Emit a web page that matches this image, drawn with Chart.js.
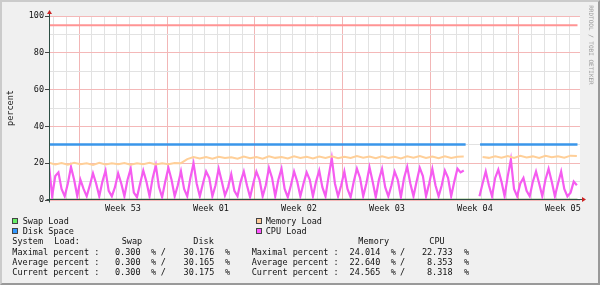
<!DOCTYPE html>
<html>
<head>
<meta charset="utf-8">
<script src="https://cdn.jsdelivr.net/npm/chart.js@4.4.1/dist/chart.umd.min.js"></script>
<style>
body { margin: 0; background: #f0f0f0; }
#wrap { position: relative; width: 600px; height: 285px; background: #f0f0f0; overflow: hidden; }
#wrap canvas { position: absolute; left: 0; top: 0; }
#frame { position: absolute; left: 0; top: 0; width: 600px; height: 285px; box-sizing: border-box;
  border-top: 2px solid #cbcbcb; border-left: 2px solid #cbcbcb;
  border-bottom: 2px solid #999; border-right: 2px solid #999; pointer-events: none; }
.t { position: absolute; font-family: "DejaVu Sans Mono", monospace; font-size: 8.5px; line-height: 10px; color: #111; white-space: pre; }
.sw { position: absolute; width: 4px; height: 4px; border: 1px solid #444; }
</style>
</head>
<body>
<div id="wrap">
  <canvas id="myChart" width="600" height="285"></canvas>
  <div id="legend"></div>
  <div id="frame"></div>
</div>
<script>
// samples: cpu every 6h, memory every 12h, x in days from the left edge
const cpuStep = 0.25;
const cpuLoad = [
  19, 2, 13, 15,   6, 2, 9, 18,   11, 2, 11, 6,   2, 8, 14.5, 9,
  2, 10, 16, 5,    2, 7, 14.5, 9,  2, 11, 17, 4,   1.5, 9, 16, 10,
  2, 12, 18.8, 7,  1.5, 10, 17.5, 11,  2, 8, 15.6, 6,  2, 12, 20, 9,
  2, 9, 15.5, 12,  2, 8, 17, 10,  2.5, 7, 14, 5,   2, 10, 15.5, 8,
  1.5, 9, 15.5, 11,  2, 8, 17.5, 12,  2, 11, 17, 6,  1.5, 8, 15.5, 10,
  2, 9, 15, 11,    2, 10, 16, 7,   2, 13, 22.7, 9,  2, 8, 15.5, 6,
  1.5, 10, 17, 12,  2, 9, 17.8, 10,  1.5, 11, 17, 7,  2, 8, 15.5, 11,
  1.5, 12, 18, 9,  2, 10, 17.5, 13,  2, 9, 17, 8,   2, 8, 16, 12,
  2, 10, 17, 15,   16, null, null, null,  null, 2, 9, 15.5,  8, 2, 12, 16.5,
  10, 2, 13, 22,   6, 2, 9, 12,    5, 2, 10, 15.5,  9, 2, 11, 17,
  10, 2, 9, 15.5,  6, 2, 4, 10,    8
];

const memStep = 0.5;
const memoryLoad = [
  20.2, 19.3, 20.1, 19.2, 20.2, 19.4, 20.0, 19.1, 20.2, 19.3, 20.0,
  19.4, 20.1, 19.2, 20.0, 19.4, 20.2, 19.3, 20.0, 19.4, 20.1, 20.0,
  22.2,
  23.3, 22.6, 23.4, 22.5, 23.5, 22.8, 23.2, 22.4, 23.6, 22.7, 23.3,
  22.5, 23.8, 22.9, 23.4, 22.6, 23.7, 22.8, 23.5, 22.6, 23.6, 22.9,
  23.8, 22.7, 23.5, 22.8, 23.9, 23.0, 23.6, 22.7, 23.8, 22.9, 23.5,
  22.6, 23.7, 23.0, 23.9, 22.8, 23.6, 22.7, 23.8, 22.9, 23.5, 23.6,
  null, null,
  23.4, 22.9, 23.8, 23.0, 23.9, 22.8, 24.0, 23.1,
  23.7, 22.9, 24.0, 23.2, 23.8, 23.0, 24.1, 23.9
];

const diskDays = [0, 33.15, 33.7, 34.3, 42.05];
const diskSpace = [30.17, 30.17, null, 30.17, 30.17];
const swapDays = [0, 42.05];
const swapLoad = [0.3, 0.3];
const limitDays = [0, 42.05];
const limitLine = [95, 95];

const weekStarts = [2.39, 9.39, 16.39, 23.39, 30.39, 37.39];
const weekCenters = [5.89, 12.89, 19.89, 26.89, 33.89, 40.89];
const weekLabels = ['Week 53', 'Week 01', 'Week 02', 'Week 03', 'Week 04', 'Week 05'];

const statNames = ['Maximal percent :', 'Average percent :', 'Current percent :'];
const swapStats = ['0.300', '0.300', '0.300'];
const diskStats = ['30.176', '30.165', '30.175'];
const memStats = ['24.014', '22.640', '24.565'];
const cpuStats = ['22.733', '8.353', '8.318'];

function pts(xs, ys) {
    return ys.map((v, i) => ({ x: xs[i], y: v }));
}
function stepPts(step, ys) {
    return ys.map((v, i) => ({ x: i * step, y: v }));
}

// daily grid lines + week label positions
let dayLines = [];
for (let d = 0.39; d < 42.2; d += 1) dayLines.push(+d.toFixed(2));
const xTicks = dayLines.concat(weekCenters);

const monoFont = { family: 'DejaVu Sans Mono', size: 8.5 };

const framePlugin = {
    id: 'frame',
    beforeDraw(chart) {
        const a = chart.chartArea, c = chart.ctx;
        c.save();
        c.fillStyle = '#ffffff';
        c.fillRect(a.left, a.top, a.right - a.left, a.bottom - a.top);
        c.restore();
    },
    afterDraw(chart) {
        const a = chart.chartArea, c = chart.ctx;
        const l = Math.round(a.left) + 0.5, b = Math.round(a.bottom) - 0.5;
        c.save();
        c.strokeStyle = '#2c4d43';
        c.lineWidth = 1;
        c.beginPath();
        c.moveTo(l, a.top - 4); c.lineTo(l, b + 3);
        c.moveTo(l - 3, b); c.lineTo(a.right + 3, b);
        c.stroke();
        // arrows
        c.fillStyle = '#cc2222';
        c.beginPath();
        c.moveTo(l - 2.5, a.top - 2); c.lineTo(l + 2.5, a.top - 2); c.lineTo(l, a.top - 6);
        c.closePath(); c.fill();
        c.beginPath();
        c.moveTo(a.right + 2, b - 2.5); c.lineTo(a.right + 2, b + 2.5); c.lineTo(a.right + 6, b);
        c.closePath(); c.fill();
        c.restore();
    }
};

var chart = document.getElementById('myChart').getContext('2d');

var myChart = new Chart(chart, {
    type: 'line',
    data: {
        datasets: [
            { label: 'Limit', data: pts(limitDays, limitLine), borderColor: '#ff9494', borderWidth: 2 },
            { label: 'Disk Space', data: pts(diskDays, diskSpace), borderColor: '#3a96ea', borderWidth: 2.5 },
            { label: 'Memory Load', data: stepPts(memStep, memoryLoad), borderColor: '#ffcf98', borderWidth: 2 },
            { label: 'CPU Load', data: stepPts(cpuStep, cpuLoad), borderColor: '#f55cf0', borderWidth: 2.2 },
            { label: 'Swap Load', data: pts(swapDays, swapLoad), borderColor: '#3f8a1a', borderWidth: 1.5 }
        ]
    },
    options: {
        responsive: false,
        animation: false,
        spanGaps: false,
        elements: { point: { radius: 0 }, line: { tension: 0 } },
        layout: { padding: { left: 0, top: 16, right: 20, bottom: 70 } },
        plugins: { legend: { display: false }, tooltip: { enabled: false } },
        scales: {
            x: {
                type: 'linear', min: 0, max: 42.25,
                afterBuildTicks: s => { s.ticks = xTicks.map(v => ({ value: v })); },
                afterFit: s => { s.height = 15; },
                border: { display: false },
                grid: {
                    drawTicks: false,
                    color: c => {
                        const v = c.tick ? c.tick.value : -1;
                        if (weekCenters.includes(v)) return 'rgba(0,0,0,0)';
                        if (weekStarts.includes(v)) return '#f2b6b6';
                        return '#e2e2e2';
                    }
                },
                ticks: {
                    autoSkip: false, maxRotation: 0, padding: 4, font: monoFont, color: '#111',
                    callback: v => { const k = weekCenters.indexOf(v); return k >= 0 ? weekLabels[k] : ''; }
                }
            },
            y: {
                min: 0, max: 100,
                afterFit: s => { s.width = 49; },
                border: { display: false },
                grid: {
                    tickLength: 4,
                    color: c => (c.tick.value % 20 === 0 ? '#f4b8b8' : '#e2e2e2'),
                    tickColor: c => (c.tick.value % 20 === 0 ? '#444' : 'rgba(0,0,0,0)')
                },
                ticks: {
                    stepSize: 10, padding: 1, font: monoFont, color: '#111',
                    callback: v => (v % 20 === 0 ? v : '')
                }
            }
        }
    },
    plugins: [framePlugin]
});

// legend + statistics as text
const legend = document.getElementById('legend');
function txt(s, x, y, extra) {
    const d = document.createElement('div');
    d.className = 't';
    d.textContent = s;
    d.style.left = x + 'px';
    d.style.top = y + 'px';
    if (extra) Object.assign(d.style, extra);
    legend.appendChild(d);
}
function swatch(color, x, y) {
    const d = document.createElement('div');
    d.className = 'sw';
    d.style.left = x + 'px';
    d.style.top = y + 'px';
    d.style.background = color;
    legend.appendChild(d);
}

swatch('#66ee66', 12, 218); txt('Swap Load', 22.7, 215.7);
swatch('#ffcc99', 255.5, 218); txt('Memory Load', 265.7, 215.7);
swatch('#3399ff', 12, 228); txt('Disk Space', 22.7, 225.7);
swatch('#ff55ff', 255.5, 228); txt('CPU Load', 265.7, 225.7);

txt('System', 12.3, 236); txt('Load:', 54.3, 236);
txt('Swap', 121.7, 236); txt('Disk', 193.3, 236);
txt('Memory', 358.3, 236); txt('CPU', 429.3, 236);

statNames.forEach((name, i) => {
    const y = 246.7 + i * 10.2;
    txt(name, 12.3, y);
    txt(swapStats[i], 115, y); txt('%', 151, y); txt('/', 160.7, y);
    txt(diskStats[i], 214.3 - diskStats[i].length * 5.12, y); txt('%', 225, y);
    txt(name, 251.7, y);
    txt(memStats[i], 380.3 - memStats[i].length * 5.12, y); txt('%', 390.7, y); txt('/', 400, y);
    txt(cpuStats[i], 452.6 - cpuStats[i].length * 5.12, y); txt('%', 464, y);
});

// axis title and watermark
txt('percent', -20, 103, { width: '60px', textAlign: 'center', transform: 'rotate(-90deg)', color: '#222' });
txt('RRDTOOL / TOBI OETIKER', 546, 40, { width: '90px', textAlign: 'center', transform: 'rotate(90deg)',
    fontSize: '6px', color: '#9a9a9a' });
</script>
</body>
</html>
